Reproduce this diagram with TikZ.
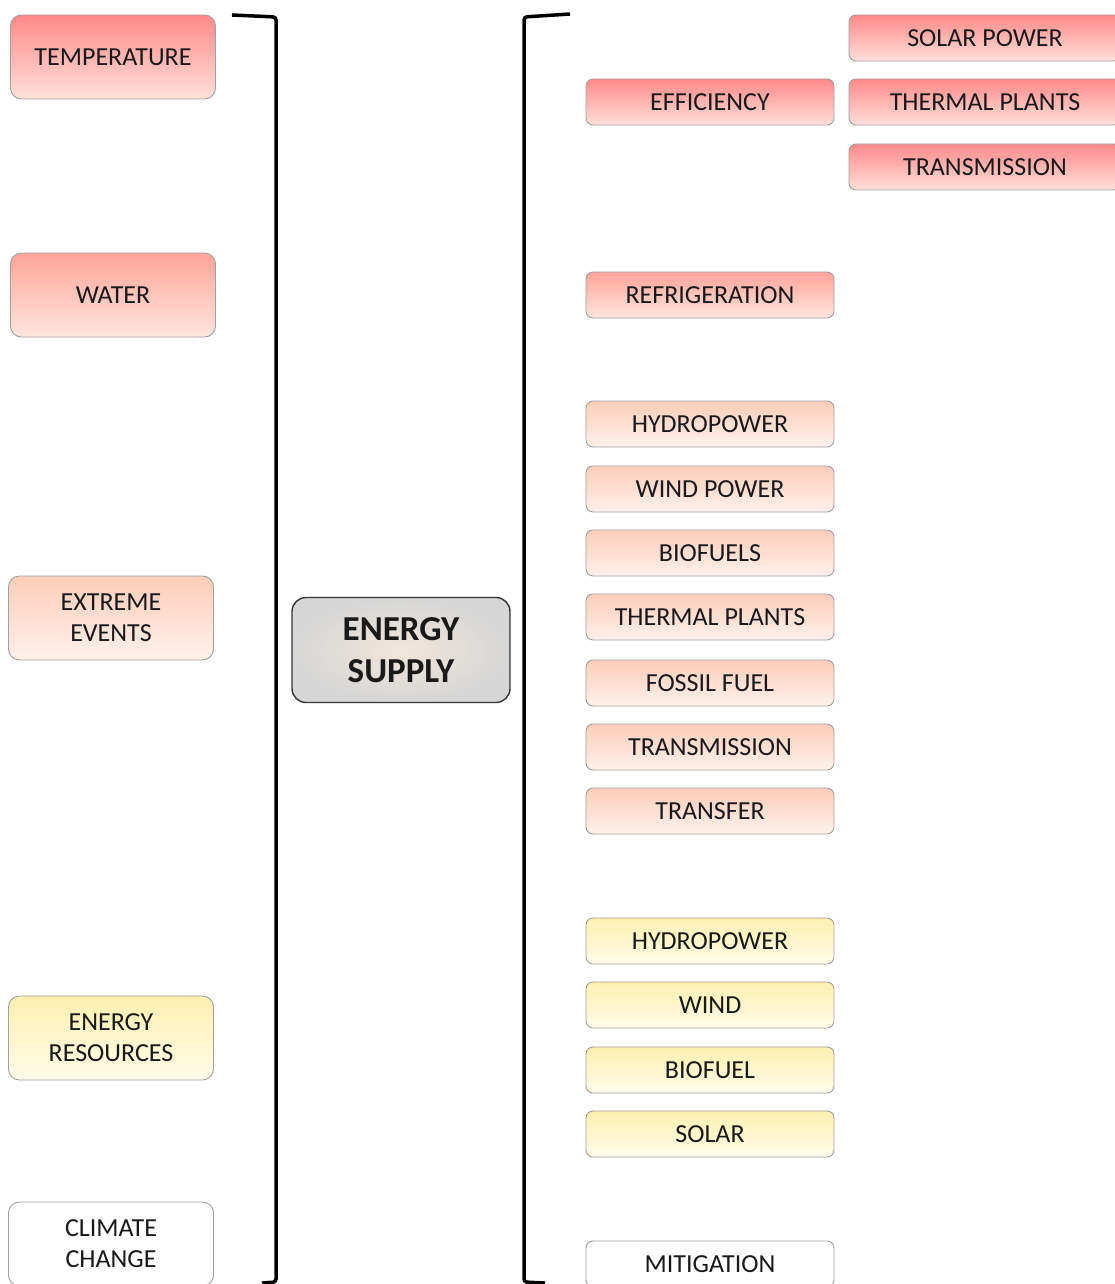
\documentclass[tikz,border=0pt]{standalone}
\usepackage{fontspec}
\setmainfont{Carlito}

\definecolor{hottop}{HTML}{FF8A8A}
\definecolor{hotbot}{HTML}{FFE0DA}
\definecolor{warmtop}{HTML}{FFA49A}
\definecolor{warmbot}{HTML}{FFE6DE}
\definecolor{mildtop}{HTML}{FCCDBA}
\definecolor{mildbot}{HTML}{FFF1EA}
\definecolor{yeltop}{HTML}{FFF0B0}
\definecolor{yelbot}{HTML}{FFFBEA}
\definecolor{supin}{HTML}{F0E6DC}
\definecolor{supout}{HTML}{D6D6D6}

\tikzset{
  box/.style={draw=gray!75, line width=0.9pt, align=center, inner sep=0pt,
    text=black!90, font=\fontsize{26}{31}\selectfont},
  bigbox/.style={box, rounded corners=11pt, minimum width=205pt, minimum height=84pt},
  smallbox/.style={box, rounded corners=7pt, minimum width=248pt, minimum height=46pt},
  sidebox/.style={smallbox, minimum width=272pt},
  hot/.style={top color=hottop, bottom color=hotbot},
  warm/.style={top color=warmtop, bottom color=warmbot},
  mild/.style={top color=mildtop, bottom color=mildbot},
  yel/.style={top color=yeltop, bottom color=yelbot},
  plain/.style={fill=white},
  bracket/.style={line width=3.5pt, rounded corners=3pt}
}

\begin{document}
\begin{tikzpicture}[x=1pt, y=-1pt]
  \useasboundingbox (0,0) rectangle (1115,1284);
  \clip (0,0) rectangle (1115,1284);
  \fill[white] (0,0) rectangle (1115,1284);

  % left column: drivers
  \node[bigbox, hot]   (temp)    at (113,57)   {TEMPERATURE};
  \node[bigbox, warm]  (water)   at (113,295)  {WATER};
  \node[bigbox, mild]  (extreme) at (111,618)  {EXTREME\\EVENTS};
  \node[bigbox, yel]   (resour)  at (111,1038) {ENERGY\\RESOURCES};
  \node[bigbox, plain] (climate) at (111,1244) {CLIMATE\\CHANGE};

  % left bracket
  \coordinate (lbtop) at (232,15);
  \coordinate (lbbot) at (262,1283);
  \draw[bracket] (lbtop) -- (276,17) -- (276,1282) -- (lbbot);

  % centre
  \node[box, draw=black!80, line width=1.4pt, rounded corners=14pt,
        inner color=supin, outer color=supout,
        minimum width=218pt, minimum height=105pt,
        font=\fontsize{35}{42}\selectfont\bfseries] (supply) at (401,650) {ENERGY\\SUPPLY};

  % right bracket
  \coordinate (rbtop) at (570,14);
  \coordinate (rbbot) at (545,1283);
  \draw[bracket] (rbtop) -- (524,17) -- (524,1282) -- (rbbot);

  % right column: impacts
  \node[smallbox, hot]  (effic)  at (710,102)  {EFFICIENCY};
  \node[smallbox, warm] (refrig) at (710,295)  {REFRIGERATION};
  \node[smallbox, mild] (hydro)  at (710,424)  {HYDROPOWER};
  \node[smallbox, mild] (wind)   at (710,489)  {WIND POWER};
  \node[smallbox, mild] (biof)   at (710,553)  {BIOFUELS};
  \node[smallbox, mild] (therm)  at (710,617)  {THERMAL PLANTS};
  \node[smallbox, mild] (fossil) at (710,683)  {FOSSIL FUEL};
  \node[smallbox, mild] (trans)  at (710,747)  {TRANSMISSION};
  \node[smallbox, mild] (transf) at (710,811)  {TRANSFER};
  \node[smallbox, yel]  (hydroR) at (710,941)  {HYDROPOWER};
  \node[smallbox, yel]  (windR)  at (710,1005) {WIND};
  \node[smallbox, yel]  (biofR)  at (710,1070) {BIOFUEL};
  \node[smallbox, yel]  (solarR) at (710,1134) {SOLAR};
  \node[smallbox, plain] (mitig) at (710,1264) {MITIGATION};

  % far right: efficiency details
  \node[sidebox, hot] (solarE) at (985,38)  {SOLAR POWER};
  \node[sidebox, hot] (thermE) at (985,102) {THERMAL PLANTS};
  \node[sidebox, hot] (transE) at (985,167) {TRANSMISSION};
\end{tikzpicture}
\end{document}
